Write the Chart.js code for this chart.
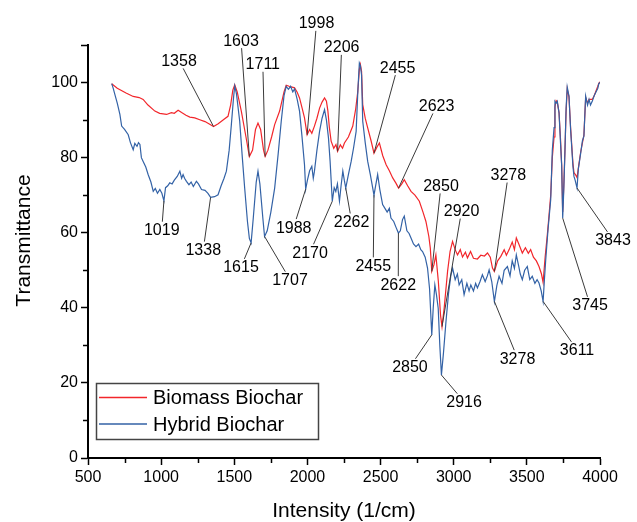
<!DOCTYPE html>
<html>
<head>
<meta charset="utf-8">
<script src="https://cdn.jsdelivr.net/npm/chart.js@4/dist/chart.umd.min.js"></script>
<style>
  html, body { margin: 0; padding: 0; background: #fff; }
  #wrap { width: 637px; height: 522px; position: relative; }
</style>
</head>
<body>
<div id="wrap"><canvas id="ftir"></canvas></div>
<script>
// Biomass biochar spectrum (wavenumber, transmittance)
const biomassWn = [662,700,760,809,850,877,910,957,990,1037,1070,1090,1116,1140,1170,1196,1230,1264,1300,1335,1358,1390,1430,1457,1475,1490,1503,1520,1548,1580,1603,1625,1645,1662,1680,1700,1711,1730,1755,1776,1810,1840,1855,1875,1895,1912,1930,1946,1965,1980,1998,2015,2030,2048,2065,2083,2100,2117,2130,2140,2150,2162,2180,2195,2206,2225,2240,2253,2280,2310,2330,2344,2355,2362,2370,2378,2395,2412,2435,2455,2475,2492,2515,2538,2560,2583,2605,2623,2645,2662,2685,2708,2735,2765,2790,2810,2830,2840,2850,2865,2878,2895,2910,2920,2935,2958,2975,2992,3010,3026,3045,3060,3080,3094,3115,3135,3162,3185,3210,3231,3250,3265,3278,3300,3322,3345,3360,3379,3400,3415,3428,3445,3469,3490,3510,3526,3545,3565,3583,3600,3611,3625,3640,3651,3663,3674,3686,3692,3700,3708,3720,3730,3738,3745,3752,3760,3768,3776,3788,3799,3815,3822,3832,3843,3855,3868,3890,3902,3915,3925,3947,3960,3970,3985,3992,4000];
const biomassT = [99.7,98.5,97.2,96.3,96.0,95.5,94.0,92.4,91.8,91.5,92.0,91.8,92.6,92.0,91.3,90.8,90.6,90.1,89.6,88.8,88.3,89.0,90.2,91.0,94.0,98.0,99.4,97.5,92.4,85.5,80.3,82.0,87.5,89.2,87.5,82.0,80.3,82.0,85.5,88.8,92.4,97.5,99.3,99.0,98.8,98.6,97.4,95.9,93.0,90.6,86.1,87.5,86.5,88.4,90.5,93.2,94.8,95.9,95.0,92.4,88.0,84.4,82.5,83.5,81.7,83.4,82.5,83.9,85.5,88.4,93.0,97.5,103.5,104.8,103.0,94.1,90.5,87.9,84.5,81.2,82.8,83.9,80.5,78.1,76.5,74.6,73.2,71.9,73.0,74.1,72.5,71.0,70.0,68.4,65.5,63.0,59.0,55.9,49.7,51.5,54.1,47.0,38.0,35.0,40.0,49.7,55.0,57.7,55.5,54.1,55.5,53.5,54.8,53.3,55.0,53.2,53.0,54.0,53.8,54.6,53.5,50.6,49.7,52.5,53.7,55.5,54.0,55.5,57.5,55.5,58.6,57.0,54.6,56.0,54.5,55.5,53.5,52.5,51.0,49.0,46.8,53.5,59.5,64.4,70.0,80.0,85.5,93.5,95.2,94.8,92.0,85.0,78.0,65.5,72.0,81.5,92.0,98.3,96.2,88.0,78.5,76.0,75.5,74.7,78.0,81.5,86.0,96.0,94.5,95.5,95.5,96.5,97.5,99.0,99.8,100.2];

// Hybrid biochar spectrum (wavenumber, transmittance)
const hybridWn = [662,672,684,700,718,730,750,775,790,809,820,835,845,855,865,877,895,911,930,946,960,975,991,1005,1019,1030,1045,1059,1075,1090,1110,1128,1140,1150,1160,1173,1190,1205,1220,1241,1255,1276,1300,1320,1338,1365,1389,1410,1430,1446,1465,1480,1495,1503,1515,1537,1555,1571,1590,1603,1615,1630,1650,1662,1675,1695,1707,1725,1750,1776,1800,1821,1840,1855,1870,1885,1900,1912,1930,1946,1962,1980,1988,2000,2015,2030,2040,2048,2065,2083,2100,2117,2130,2144,2155,2170,2183,2194,2205,2219,2230,2242,2252,2262,2280,2299,2315,2333,2345,2355,2362,2370,2378,2395,2412,2430,2455,2466,2480,2495,2514,2530,2545,2560,2571,2590,2605,2622,2635,2650,2662,2680,2695,2708,2725,2742,2760,2775,2787,2805,2821,2835,2850,2860,2871,2882,2894,2905,2916,2930,2947,2965,2980,2992,3010,3025,3037,3055,3071,3090,3105,3117,3135,3150,3162,3180,3196,3215,3230,3242,3260,3278,3295,3310,3330,3345,3367,3385,3400,3415,3428,3445,3455,3469,3485,3503,3520,3537,3555,3570,3583,3598,3611,3620,3629,3645,3663,3674,3686,3692,3700,3708,3720,3730,3738,3745,3752,3760,3768,3776,3788,3799,3815,3822,3830,3843,3852,3868,3880,3890,3902,3915,3925,3935,3947,3960,3970,3985,3992,4000];
const hybridT = [99.7,98.5,96.8,94.5,91.5,88.4,87.5,86.1,84.0,82.1,83.8,83.0,84.0,83.5,80.0,79.0,77.5,75.5,73.5,71.0,71.8,70.5,71.5,70.5,68.5,72.0,72.5,73.3,73.0,74.0,75.0,76.4,74.5,75.5,74.5,73.7,72.8,73.5,72.3,73.7,73.0,71.5,71.3,70.5,69.4,69.6,70.1,72.5,74.5,76.4,82.0,88.8,96.0,99.1,97.0,89.7,80.0,71.9,63.0,58.5,57.3,64.0,73.5,76.4,73.0,64.0,59.0,60.5,65.5,71.9,81.0,89.7,96.5,99.0,98.2,99.0,97.5,98.3,95.5,92.4,86.0,78.1,71.6,74.0,76.5,77.7,74.5,76.4,82.0,87.0,90.5,92.8,90.0,85.2,79.0,68.4,72.0,71.0,73.0,68.4,72.5,76.4,74.0,71.9,75.5,79.0,82.5,87.0,98.0,105.2,104.5,102.0,89.7,84.0,79.0,75.5,70.0,72.5,75.5,71.5,67.5,66.5,65.5,66.5,63.9,63.0,61.5,59.9,60.5,63.5,64.4,60.5,59.8,58.6,57.0,56.3,57.0,55.5,55.0,53.5,50.6,45.0,32.8,40.0,46.1,43.5,39.9,30.0,22.1,28.0,36.3,44.0,48.5,50.6,47.5,49.0,46.1,47.5,43.5,46.5,44.5,46.1,44.5,46.5,45.3,47.0,48.8,47.0,48.5,50.1,47.0,41.7,46.0,48.4,46.5,50.0,51.0,48.5,52.5,50.5,54.1,51.0,49.0,47.5,50.0,51.0,47.5,48.4,46.5,47.5,46.6,44.5,41.7,47.5,52.8,61.0,68.8,82.0,88.0,95.0,94.5,95.0,91.9,84.0,78.0,63.9,71.0,81.2,93.0,98.8,96.4,87.5,77.7,75.0,74.0,71.9,77.0,81.2,84.5,85.7,96.4,94.0,95.5,94.0,95.0,96.5,97.3,98.5,99.7,100.0];

const xTicksMinor = [750, 1250, 1750, 2250, 2750, 3250, 3750];
const yTicksMinor = [10, 30, 50, 70, 90];

const RED = '#f2262b';
const BLUE = '#3362a6';

// peak labels: [text, series ('b' biomass / 'h' hybrid), peak wn, label wn, label transmittance]
const peakLabels = [
  ['1358', 'b', 1358, 1122, 105.9],
  ['1603', 'b', 1603, 1546, 111.3],
  ['1711', 'b', 1711, 1695, 105.0],
  ['1998', 'b', 1998, 2062, 115.9],
  ['2206', 'b', 2206, 2234, 109.5],
  ['2455', 'b', 2455, 2616, 104.1],
  ['2623', 'b', 2623, 2883, 93.9],
  ['2850', 'b', 2850, 2913, 72.6],
  ['2920', 'b', 2920, 3054, 65.9],
  ['3278', 'b', 3278, 3373, 75.5],
  ['1019', 'h', 1019, 1004, 60.8],
  ['1338', 'h', 1338, 1288, 55.5],
  ['1615', 'h', 1615, 1546, 50.9],
  ['1707', 'h', 1707, 1881, 47.5],
  ['1988', 'h', 1988, 1906, 61.5],
  ['2170', 'h', 2170, 2018, 54.8],
  ['2262', 'h', 2262, 2302, 63.0],
  ['2455', 'h', 2455, 2450, 51.3],
  ['2622', 'h', 2622, 2621, 46.3],
  ['2850', 'h', 2850, 2701, 24.3],
  ['2916', 'h', 2916, 3071, 15.0],
  ['3278', 'h', 3278, 3436, 26.6],
  ['3611', 'h', 3611, 3843, 28.8],
  ['3745', 'h', 3745, 3932, 40.8],
  ['3843', 'h', 3843, 4089, 58.1]
];

const FONT = '"Liberation Sans", Arial, sans-serif';

function toPoints(wn, t) {
  return wn.map((w, i) => ({ x: w, y: t[i] }));
}

function valueAt(wn, t, w) {
  let best = 0;
  for (let i = 1; i < wn.length; i++) {
    if (Math.abs(wn[i] - w) < Math.abs(wn[best] - w)) best = i;
  }
  return t[best];
}

// clip the leader line so it stops at the label's box
function boxEdge(cx, cy, hw, hh, px, py) {
  const dx = px - cx, dy = py - cy;
  const s = Math.min(Math.abs(dx) > 0 ? hw / Math.abs(dx) : Infinity,
                     Math.abs(dy) > 0 ? hh / Math.abs(dy) : Infinity);
  return [cx + dx * s, cy + dy * s];
}

const extras = {
  id: 'extras',
  afterDatasetsDraw(chart) {
    const { ctx, chartArea: a } = chart;
    const xs = chart.scales.x, ys = chart.scales.y;
    ctx.save();

    // minor ticks
    ctx.strokeStyle = '#000';
    ctx.lineWidth = 1.5;
    ctx.beginPath();
    xTicksMinor.forEach(v => {
      const px = Math.round(xs.getPixelForValue(v)) + 0.5;
      ctx.moveTo(px, a.bottom);
      ctx.lineTo(px, a.bottom + 5);
    });
    yTicksMinor.forEach(v => {
      const py = Math.round(ys.getPixelForValue(v)) + 0.5;
      ctx.moveTo(a.left, py);
      ctx.lineTo(a.left - 5, py);
    });
    ctx.stroke();

    // peak labels with leader lines
    ctx.font = '16px ' + FONT;
    ctx.textAlign = 'center';
    ctx.textBaseline = 'middle';
    peakLabels.forEach(([txt, s, w, lw, lt]) => {
      const t = s === 'b' ? valueAt(biomassWn, biomassT, w) : valueAt(hybridWn, hybridT, w);
      const px = xs.getPixelForValue(w), py = ys.getPixelForValue(t);
      const cx = xs.getPixelForValue(lw), cy = ys.getPixelForValue(lt);
      const hw = ctx.measureText(txt).width / 2 + 1, hh = 8;
      const [ex, ey] = boxEdge(cx, cy, hw, hh, px, py);
      ctx.strokeStyle = '#3a3a3a';
      ctx.lineWidth = 1;
      ctx.beginPath();
      ctx.moveTo(px, py);
      ctx.lineTo(ex, ey);
      ctx.stroke();
      ctx.fillStyle = '#000';
      ctx.fillText(txt, cx, cy + 1);
    });

    // legend
    const lx = a.left + 8, ly = a.bottom - 75;
    ctx.strokeStyle = '#444';
    ctx.lineWidth = 1.5;
    ctx.strokeRect(lx + 0.5, ly + 0.5, 222, 56);
    [[RED, 'Biomass Biochar', 14.5], [BLUE, 'Hybrid Biochar', 41]].forEach(([c, name, dy]) => {
      ctx.strokeStyle = c;
      ctx.lineWidth = 1.3;
      ctx.beginPath();
      ctx.moveTo(lx + 3, ly + dy);
      ctx.lineTo(lx + 51, ly + dy);
      ctx.stroke();
      ctx.fillStyle = '#000';
      ctx.font = '20px ' + FONT;
      ctx.textAlign = 'left';
      ctx.fillText(name, lx + 57, ly + dy + 1);
    });

    // axis titles
    ctx.font = '21px ' + FONT;
    ctx.textAlign = 'center';
    ctx.fillText('Intensity (1/cm)', (a.left + a.right) / 2, 511);
    ctx.translate(24, (a.top + a.bottom) / 2 - 11);
    ctx.rotate(-Math.PI / 2);
    ctx.fillText('Transmittance', 0, 0);
    ctx.restore();
  }
};

const axisTickFont = { family: FONT, size: 16 };

new Chart(document.getElementById('ftir'), {
  type: 'line',
  data: {
    datasets: [
      { label: 'Hybrid Biochar', data: toPoints(hybridWn, hybridT), borderColor: BLUE, borderWidth: 1.2, pointRadius: 0, tension: 0 },
      { label: 'Biomass Biochar', data: toPoints(biomassWn, biomassT), borderColor: RED, borderWidth: 1.2, pointRadius: 0, tension: 0 }
    ]
  },
  options: {
    responsive: true,
    maintainAspectRatio: false,
    animation: false,
    events: [],
    layout: { padding: { top: 45, right: 37, left: 0, bottom: 0 } },
    plugins: { legend: { display: false }, tooltip: { enabled: false } },
    scales: {
      x: {
        type: 'linear', min: 500, max: 4000,
        afterFit: s => { s.height = 64; },
        border: { color: '#000', width: 2 },
        grid: { drawOnChartArea: false, tickLength: 7, tickColor: '#000', tickWidth: 1.5 },
        ticks: { stepSize: 500, color: '#000', font: axisTickFont, maxRotation: 0, autoSkip: false, padding: 3,
                 callback: v => String(v) }
      },
      y: {
        min: 0, max: 110,
        afterFit: s => { s.width = 88; },
        border: { color: '#000', width: 2 },
        grid: { drawOnChartArea: false, tickLength: 7, tickColor: '#000', tickWidth: 1.5 },
        ticks: { stepSize: 20, color: '#000', font: axisTickFont, padding: 3,
                 callback: v => (v % 20 === 0 ? String(v) : '') }
      }
    }
  },
  plugins: [extras]
});
</script>
</body>
</html>
